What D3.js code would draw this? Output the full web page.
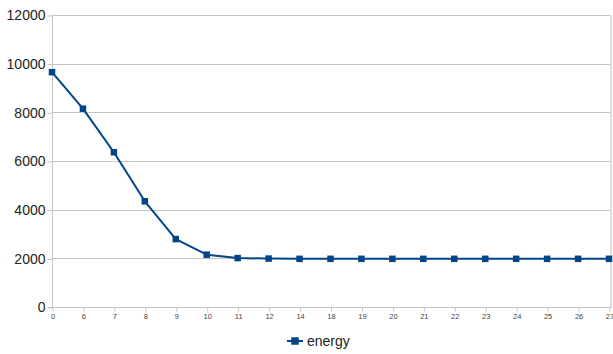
<!DOCTYPE html>
<html>
<head>
<meta charset="utf-8">
<script src="https://cdn.jsdelivr.net/npm/d3@7"></script>
<style>
  html, body { margin: 0; padding: 0; background: #fff; overflow: hidden; }
  svg { display: block; font-family: "Liberation Sans", Arial, sans-serif; }
</style>
</head>
<body>
<svg id="chart" width="613" height="354"></svg>
<script>
// Energy per setting
const categories = ["0", "6", "7", "8", "9", "10", "11", "12", "14", "18", "19", "20", "21", "22", "23", "24", "25", "26", "27"];
const energy = [9650, 8150, 6360, 4345, 2790, 2150, 2010, 1990, 1980, 1980, 1980, 1980, 1980, 1980, 1980, 1980, 1980, 1980, 1980];
const yTicks = [0, 2000, 4000, 6000, 8000, 10000, 12000];
const seriesName = "energy";

const svg = d3.select("#chart");
const margin = { left: 52, right: 2, top: 15, bottom: 47 };
const W = 613, H = 354;
const x0 = margin.left, x1 = W - margin.right - 0.5;
const yTop = margin.top, yBot = H - margin.bottom;

const x = d3.scalePoint().domain(categories).range([x0, x1 - 1.5]);
const y = d3.scaleLinear().domain([0, 12000]).range([yBot, yTop]);

const grid = "#c4c4c4";
const blue = "#004586";

// horizontal gridlines
svg.append("g").selectAll("line").data(yTicks.filter(d => d > 0)).join("line")
  .attr("x1", x0).attr("x2", x1)
  .attr("y1", d => Math.round(y(d)) + 0.5).attr("y2", d => Math.round(y(d)) + 0.5)
  .attr("stroke", grid).attr("stroke-width", 1);

// right edge of plot wall
svg.append("line")
  .attr("x1", x1 + 0.5).attr("x2", x1 + 0.5)
  .attr("y1", Math.round(y(12000))).attr("y2", Math.round(y(0)) + 1)
  .attr("stroke", "#dedede").attr("stroke-width", 2);

// y axis
const yAxis = d3.axisLeft(y).tickValues(yTicks).tickSize(5).tickPadding(2).tickFormat(d3.format("d"));
const gy = svg.append("g").attr("transform", `translate(${x0 + 0.5},0.5)`).call(yAxis);
gy.select(".domain").attr("stroke", grid).attr("d", `M0,${y(12000)}V${y(0)}`);
gy.selectAll(".tick line").attr("stroke", grid);
gy.selectAll(".tick text").attr("fill", "#222").attr("font-size", 14)
  .attr("font-family", "Liberation Sans, Arial, sans-serif");

// x axis
const xAxis = d3.axisBottom(x).tickSize(4).tickPadding(2);
const gx = svg.append("g").attr("transform", `translate(0.5,${Math.round(y(0)) + 0.5})`).call(xAxis);
gx.select(".domain").attr("stroke", grid).attr("d", `M${x0 - 5},0H${x1}`);
gx.selectAll(".tick line").attr("stroke", grid);
gx.selectAll(".tick text").attr("fill", "#444").attr("font-size", 7.5)
  .attr("font-family", "Liberation Sans, Arial, sans-serif");

// data line
const pts = categories.map((c, i) => [x(c), y(energy[i])]);
svg.append("path")
  .attr("d", d3.line()(pts))
  .attr("fill", "none").attr("stroke", blue).attr("stroke-width", 2)
  .attr("stroke-linejoin", "round");

// square markers
const ms = 6.5;
svg.append("g").selectAll("rect").data(pts).join("rect")
  .attr("x", d => d[0] - ms / 2).attr("y", d => d[1] - ms / 2)
  .attr("width", ms).attr("height", ms).attr("fill", blue);

// legend
const lg = svg.append("g").attr("transform", "translate(287,341)");
lg.append("line").attr("x1", 0).attr("x2", 16).attr("y1", 0).attr("y2", 0)
  .attr("stroke", blue).attr("stroke-width", 2);
lg.append("rect").attr("x", 8 - ms / 2 - 0.5).attr("y", -ms / 2 - 0.5).attr("width", ms + 1).attr("height", ms + 1).attr("fill", blue);
lg.append("text").attr("x", 20).attr("y", 5).attr("font-size", 14).attr("fill", "#222")
  .text(seriesName);
</script>
</body>
</html>
